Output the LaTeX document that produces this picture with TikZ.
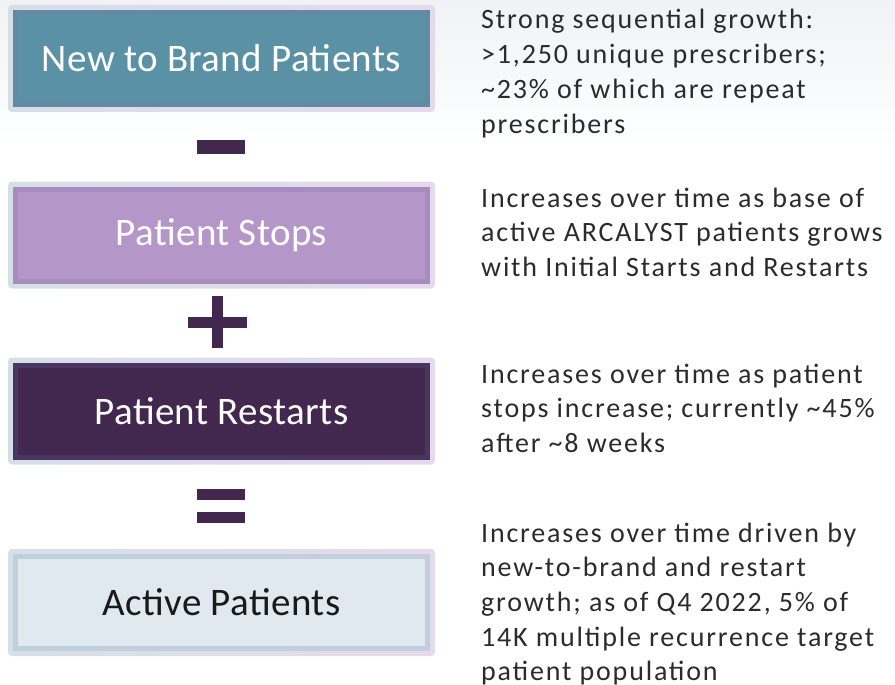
\documentclass[tikz,border=0pt]{standalone}
\usepackage{fontspec}
\setmainfont{Carlito}
\newfontfamily\notefont[LetterSpace=6.5]{Carlito}
\newfontfamily\boxfont[LetterSpace=1]{Carlito}
\usetikzlibrary{calc}
\pgfdeclarelayer{bottom}
\pgfdeclarelayer{background}
\pgfsetlayers{bottom,background,main}
\definecolor{tealfill}{HTML}{5B91A5}
\definecolor{tealedge}{HTML}{6289A6}
\definecolor{lilacfill}{HTML}{B596C9}
\definecolor{lilacedge}{HTML}{A88CC0}
\definecolor{plumfill}{HTML}{42284F}
\definecolor{plumedge}{HTML}{4B3563}
\definecolor{palefill}{HTML}{E0E9EF}
\definecolor{paleedge}{HTML}{C0CFDB}
\definecolor{frameL}{HTML}{D5DFE6}
\definecolor{frameR}{HTML}{E5DAEC}
\definecolor{opcol}{HTML}{42284F}
\definecolor{txt}{HTML}{2B2B2B}
\definecolor{bgtop}{HTML}{F0F2F5}
\tikzset{
  stagebox/.style={rectangle, line width=5pt, minimum width=412pt, minimum height=92pt,
    inner sep=0pt, font=\boxfont\fontsize{39}{45}\selectfont},
  framebox/.style={left color=frameL, right color=frameR, rounded corners=4pt},
  note/.style={anchor=base west, inner sep=0pt, text=txt},
}
\newcommand{\notetext}[1]{\parbox[t]{420pt}{\notefont\fontsize{28}{34.7}\selectfont\raggedright #1}}
\begin{document}
\begin{tikzpicture}[x=1pt,y=-1pt]
\useasboundingbox (0,0) rectangle (895,685);
\begin{pgfonlayer}{bottom}
\shade[top color=bgtop, bottom color=white] (0,0) rectangle (895,150);
\end{pgfonlayer}

\node[stagebox, fill=tealfill, draw=tealedge, text=white] (b1) at (221.5,58.5) {New to Brand Patients};
\node[stagebox, fill=lilacfill, draw=lilacedge, text=white] (b2) at (221.5,235) {Patient Stops};
\node[stagebox, fill=plumfill, draw=plumedge, text=white] (b3) at (221.5,411) {Patient Restarts};
\node[stagebox, fill=palefill, draw=paleedge, text=black!90] (b4) at (221.5,602.5) {Active Patients};

\begin{pgfonlayer}{background}
\foreach \b in {b1,b2,b3,b4}{
  \shade[framebox] ([shift={(-5pt,5pt)}]\b.north west) rectangle ([shift={(5pt,-5pt)}]\b.south east);
}
\end{pgfonlayer}

% operators
\fill[opcol] (197,140) rectangle (245,154);
\fill[opcol] (188,317) rectangle (247,328);
\fill[opcol] (212,296) rectangle (223,348);
\fill[opcol] (197,489) rectangle (245,500);
\fill[opcol] (197,512) rectangle (245,523);

\node[note] (n1) at (481,29) {\notetext{Strong sequential growth:\\ >1,250 unique prescribers;\\ \textasciitilde 23\% of which are repeat\\ prescribers}};
\node[note] (n2) at (481,207) {\notetext{Increases over time as base of\\ active ARCALYST patients grows\\ with Initial Starts and Restarts}};
\node[note] (n3) at (481,383) {\notetext{Increases over time as patient\\ stops increase; currently \textasciitilde 45\%\\ after \textasciitilde 8 weeks}};
\node[note] (n4) at (481,542) {\notetext{Increases over time driven by\\ new-to-brand and restart\\ growth; as of Q4 2022, 5\% of\\ 14K multiple recurrence target\\ patient population}};
\end{tikzpicture}
\end{document}
